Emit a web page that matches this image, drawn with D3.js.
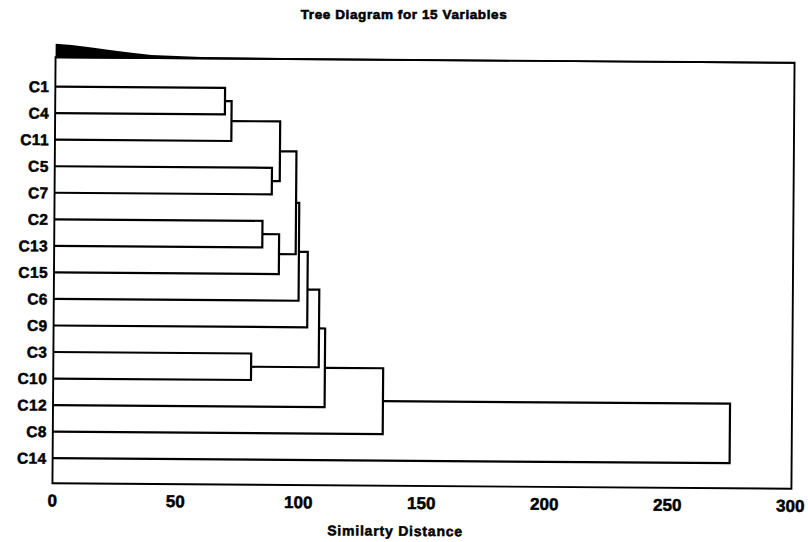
<!DOCTYPE html>
<html lang="en">
<head>
<meta charset="UTF-8">
<title>Tree Diagram for 15 Variables</title>
<script src="https://cdn.jsdelivr.net/npm/d3@7"></script>
<style>
    body { margin: 0; background: #fff; }
    svg { display: block; }
    text { font-family: "Liberation Sans", Arial, sans-serif; font-weight: bold; fill: #000; }
</style>
</head>
<body>
<div id="chart"></div>
<script>
    // leaves in display order (top to bottom)
    const leaves = ["C1", "C4", "C11", "C5", "C7", "C2", "C13", "C15", "C6", "C9", "C3", "C10", "C12", "C8", "C14"];

    // merge steps: cluster Mi joins mergeLeft[i-1] and mergeRight[i-1] at mergeHeight[i-1]
    const mergeLeft   = ["C1", "M1", "C5", "M2", "C2", "M5", "M4", "M7", "M8", "C3", "M9", "M11", "M12", "M13"];
    const mergeRight  = ["C4", "C11", "C7", "M3", "C13", "C15", "M6", "C6", "C9", "C10", "M10", "C12", "C8", "C14"];
    const mergeHeight = [69, 71.7, 88.3, 91.5, 84.6, 91.4, 98.2, 99.5, 103.1, 80.4, 107.9, 110.4, 134.1, 275.2];

    const xTicks = [0, 50, 100, 150, 200, 250, 300];

    const width = 808, height = 542;
    const frame = { left: 54, right: 793, top: 60, bottom: 486 };

    const svg = d3.select("#chart").append("svg")
        .attr("width", width)
        .attr("height", height);

    svg.append("text")
        .attr("x", 404)
        .attr("y", 19)
        .attr("text-anchor", "middle")
        .attr("font-size", "13.5px")
        .attr("letter-spacing", "0.6px")
        .attr("stroke", "#000")
        .attr("stroke-width", 0.6)
        .text("Tree Diagram for 15 Variables");

    // the scanned original is tilted a little
    const g = svg.append("g")
        .attr("transform", "rotate(0.42, 423, 272)");

    const x = d3.scaleLinear().domain([0, 300]).range([54, 792]);
    const y = d3.scalePoint().domain(leaves).range([89.3, 460.9]);

    // build node positions
    const nodes = {};
    leaves.forEach(d => { nodes[d] = { y: y(d), h: 0 }; });
    mergeHeight.forEach((h, i) => {
        const a = nodes[mergeLeft[i]], b = nodes[mergeRight[i]];
        nodes["M" + (i + 1)] = { y: (a.y + b.y) / 2, h: h, a: a, b: b };
    });

    // frame
    g.append("rect")
        .attr("x", frame.left)
        .attr("y", frame.top)
        .attr("width", frame.right - frame.left)
        .attr("height", frame.bottom - frame.top)
        .attr("fill", "none")
        .attr("stroke", "#000")
        .attr("stroke-width", 1.9);

    // thick smudge on the top border at the left
    g.append("path")
        .attr("d", "M54,46.5 L70,47.5 L90,50 L110,52.5 L130,55 L150,57 L200,58.6 L300,59.2 L793,59.5 L793,61 L54,61 Z")
        .attr("fill", "#000");

    // dendrogram links
    const links = g.append("g")
        .attr("fill", "none")
        .attr("stroke", "#000")
        .attr("stroke-width", 2.2)
        .attr("stroke-linejoin", "miter");

    mergeHeight.forEach((h, i) => {
        const n = nodes["M" + (i + 1)];
        const p = d3.path();
        p.moveTo(x(n.a.h), n.a.y);
        p.lineTo(x(h), n.a.y);
        p.lineTo(x(h), n.b.y);
        p.lineTo(x(n.b.h), n.b.y);
        links.append("path").attr("d", p.toString());
    });

    // leaf labels
    g.append("g").selectAll("text")
        .data(leaves)
        .join("text")
        .attr("x", 48)
        .attr("y", d => y(d))
        .attr("dy", "0.36em")
        .attr("text-anchor", "end")
        .attr("font-size", "15.5px")
        .attr("letter-spacing", "0.4px")
        .attr("stroke", "#000")
        .attr("stroke-width", 0.5)
        .text(d => d);

    // x tick labels (no tick marks in the original)
    g.append("g").selectAll("text")
        .data(xTicks)
        .join("text")
        .attr("x", d => x(d))
        .attr("y", 509)
        .attr("text-anchor", "middle")
        .attr("font-size", "17px")
        .attr("stroke", "#000")
        .attr("stroke-width", 0.5)
        .text(d => d);

    g.append("text")
        .attr("x", 397)
        .attr("y", 536)
        .attr("text-anchor", "middle")
        .attr("font-size", "14px")
        .attr("letter-spacing", "0.8px")
        .attr("stroke", "#000")
        .attr("stroke-width", 0.5)
        .text("Similarty Distance");
</script>
</body>
</html>
